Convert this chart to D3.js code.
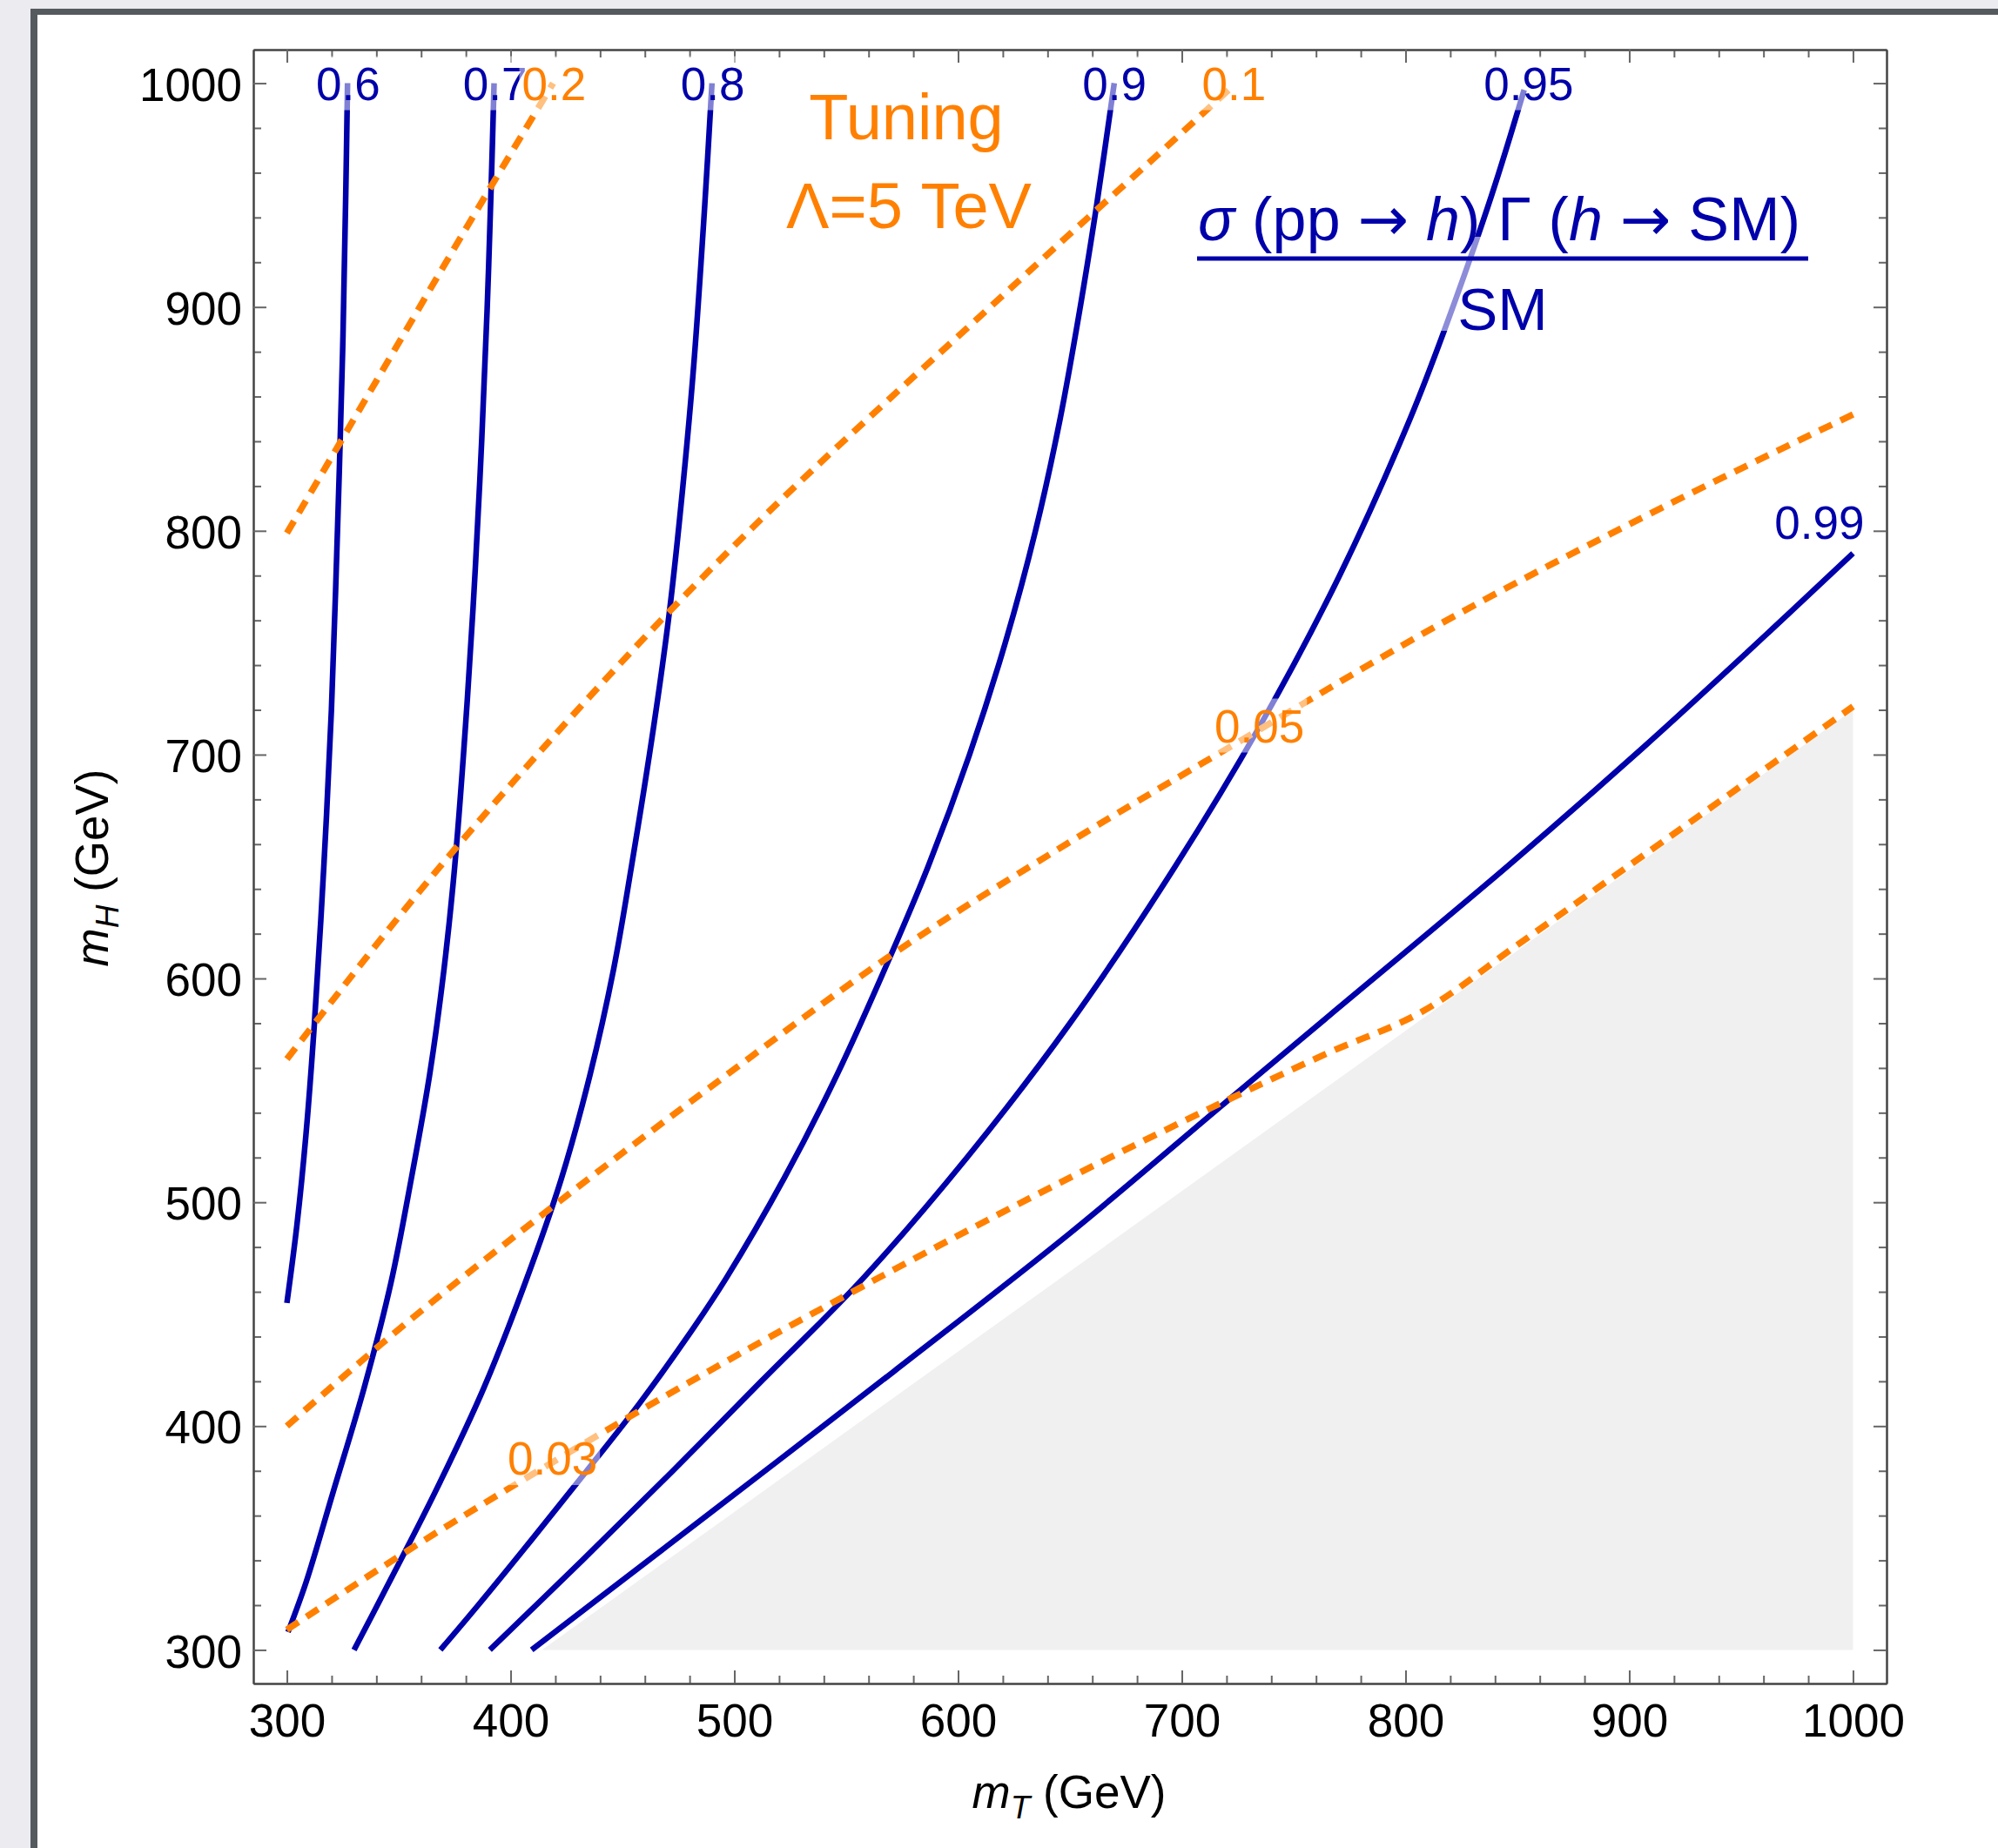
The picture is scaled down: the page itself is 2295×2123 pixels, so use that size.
<!DOCTYPE html>
<html>
<head>
<meta charset="utf-8">
<script src="https://cdn.jsdelivr.net/npm/d3@7"></script>
<style>
  body { margin: 0; background: #ebebf0; }
  svg { display: block; }
</style>
</head>
<body>
<script>
'use strict';

// axis range and ticks (GeV)
const plotDomain = [285, 1015];
const majorTicks = [300, 400, 500, 600, 700, 800, 900, 1000];
const minorTicks = [320, 340, 360, 380, 420, 440, 460, 480, 520, 540, 560, 580,
  620, 640, 660, 680, 720, 740, 760, 780, 820, 840, 860, 880, 920, 940, 960, 980];

// contours of sigma*Gamma / SM, points are [m_T, m_H]
const ratioLevels = ['0.6', '0.7', '0.8', '0.9', '0.95', '0.99'];
const ratio06 = [[300, 455], [304.5, 490], [308.5, 530], [312.3, 580], [316.5, 650], [319.9, 720],
  [322.6, 800], [324.9, 880], [326.3, 950], [327.1, 1000]];
const ratio07 = [[300.5, 308], [308.5, 330], [320.5, 370], [334.5, 417], [346.5, 464], [355.5, 510],
  [363.8, 557], [370.2, 604], [375, 650], [380.6, 724], [384.2, 783], [387.1, 841], [389.5, 899],
  [391.4, 957], [392.6, 1000]];
const ratio08 = [[330, 300], [342.5, 324], [366.5, 371], [388, 417], [406.5, 464], [422.5, 510],
  [435.5, 557], [446, 604], [454, 650], [464, 713], [471, 764], [477, 820], [482, 876],
  [486.8, 946], [490, 1000]];
const ratio09 = [[368.6, 300], [385.5, 320], [410, 350], [434, 380], [457.5, 410], [479.1, 440],
  [496.3, 466], [522.4, 511], [545.9, 557], [570.2, 611], [586.6, 650], [605.1, 700], [621.1, 750],
  [634.6, 800], [645.6, 850], [654.6, 900], [662, 946], [669.8, 1000]];
const ratio095 = [[390.7, 300], [432, 340], [472.5, 380], [512, 420], [557.5, 466], [604, 520],
  [650, 580], [697, 650], [735, 713], [770.5, 780], [802, 850], [817.5, 890], [838.5, 950], [853, 997]];
const ratio099 = [[409.4, 300], [457, 336.5], [518, 383.3], [571.5, 424.6], [650, 486.2], [720, 545],
  [766, 583.5], [846, 650.5], [906, 703], [953, 746], [1000, 790]];
const ratioCurves = [ratio06, ratio07, ratio08, ratio09, ratio095, ratio099];
const ratioLabelAt = [[327.4, 1000], [393, 1000], [490.3, 1000], [669.9, 1000], [855, 1000], [985, 804]];

// tuning contours for Lambda = 5 TeV
const tuningLevels = ['0.2', '0.1', '0.05', '0.03'];
const tuning02 = [[300, 799], [340, 867], [380, 935], [419, 1000]];
const tuning01 = [[300, 564], [366, 647], [420, 709], [471, 764], [520, 813], [565, 855], [610, 896],
  [646, 929], [687, 966], [722, 998]];
const tuning005 = [[300, 400], [342, 436.5], [420, 499], [494, 555], [568, 609], [650, 661],
  [731, 709], [813, 757], [906, 806], [1000, 852]];
const tuning003 = [[300, 309], [359, 347.5], [419, 384], [458, 407], [518, 441], [557.5, 462.5],
  [650, 511], [720, 545.5], [766, 567], [808, 585.5], [850, 615], [900, 650.5], [950, 686],
  [1000, 721.5]];
const tuningCurves = [tuning02, tuning01, tuning005, tuning003];
const tuningLabelAt = [[419.4, 1000], [723.3, 1000], [734.7, 713], [418.7, 385.7]];

// upper edge of the excluded (gray) region
const excludedEdge = [[414, 300], [1000, 720]];

(function() {

  let svgContainer = ""; // keep SVG reference in global scope
  const font = 'Liberation Sans, Arial, Helvetica, sans-serif';
  const blue = '#0000aa';
  const orange = '#ff8000';

  window.onload = function() {
    svgContainer = d3.select('body')
      .append('svg')
      .attr('width', 2295)
      .attr('height', 2123);

    drawFrame();
    let map = drawAxes();
    plotData(map);
    makeLabels(map);
  }

  // notebook-style window frame behind the plot
  function drawFrame() {
    svgContainer.append('rect')
      .attr('width', 2295).attr('height', 2123)
      .attr('fill', '#ebebf0');
    svgContainer.append('rect')
      .attr('x', 35).attr('y', 10)
      .attr('width', 2260).attr('height', 2113)
      .attr('fill', '#555a5f');
    svgContainer.append('rect')
      .attr('x', 43).attr('y', 17)
      .attr('width', 2252).attr('height', 2106)
      .attr('fill', '#ffffff');
  }

  // one axis with inward ticks
  function addAxis(axis, transform, values, size, withLabels) {
    let g = svgContainer.append('g')
      .attr('transform', transform)
      .call(axis.tickValues(values)
        .tickSizeInner(size)
        .tickSizeOuter(0)
        .tickFormat(withLabels ? d3.format('d') : ''));
    g.select('.domain').attr('stroke', '#444').attr('stroke-width', 2);
    g.selectAll('.tick line').attr('stroke', '#666').attr('stroke-width', 2);
    g.selectAll('text')
      .attr('font-family', font)
      .attr('font-size', 53)
      .attr('fill', '#000');
    return g;
  }

  // draw frame axes on all four sides
  function drawAxes() {
    let xScale = d3.scaleLinear().domain(plotDomain).range([291, 2167]);
    let yScale = d3.scaleLinear().domain(plotDomain).range([1934, 57]);

    // minor ticks
    addAxis(d3.axisBottom(xScale), 'translate(0,1934)', minorTicks, -9, false);
    addAxis(d3.axisTop(xScale), 'translate(0,57)', minorTicks, -9, false);
    addAxis(d3.axisLeft(yScale), 'translate(291,0)', minorTicks, -9, false);
    addAxis(d3.axisRight(yScale), 'translate(2167,0)', minorTicks, -9, false);

    // major ticks, labels on bottom and left
    addAxis(d3.axisBottom(xScale).tickPadding(23), 'translate(0,1934)', majorTicks, -15, true);
    addAxis(d3.axisTop(xScale), 'translate(0,57)', majorTicks, -15, false);
    let left = addAxis(d3.axisLeft(yScale).tickPadding(13), 'translate(291,0)', majorTicks, -15, true);
    left.selectAll('text').attr('dy', '0.37em');
    addAxis(d3.axisRight(yScale), 'translate(2167,0)', majorTicks, -15, false);

    return { x: xScale, y: yScale };
  }

  // gray region and contour lines
  function plotData(map) {
    let area = d3.area()
      .x((d) => map.x(d[0]))
      .y0(map.y(300))
      .y1((d) => map.y(d[1]));

    svgContainer.append('path')
      .datum(excludedEdge)
      .attr('d', area)
      .attr('fill', '#f0f0f0');

    // steep blue contours read better with a parametric spline
    let ratioLine = d3.line()
      .x((d) => map.x(d[0]))
      .y((d) => map.y(d[1]))
      .curve(d3.curveCatmullRom.alpha(0.5));

    let tuningLine = d3.line()
      .x((d) => map.x(d[0]))
      .y((d) => map.y(d[1]))
      .curve(d3.curveMonotoneX);

    svgContainer.selectAll('.ratio')
      .data(ratioCurves)
      .enter()
      .append('path')
        .attr('class', 'ratio')
        .attr('d', ratioLine)
        .attr('fill', 'none')
        .attr('stroke', blue)
        .attr('stroke-width', 6.5);

    svgContainer.selectAll('.tuning')
      .data(tuningCurves)
      .enter()
      .append('path')
        .attr('class', 'tuning')
        .attr('d', tuningLine)
        .attr('fill', 'none')
        .attr('stroke', orange)
        .attr('stroke-width', 7.5)
        .attr('stroke-dasharray', '16,11');
  }

  // contour label with a see-through box behind it
  function contourLabel(map, text, at, color, box) {
    let g = svgContainer.append('g');
    let rect = g.append('rect');
    let label = g.append('text')
      .attr('x', map.x(at[0]))
      .attr('y', map.y(at[1]))
      .attr('dy', '0.36em')
      .attr('text-anchor', 'middle')
      .attr('font-family', font)
      .attr('font-size', 53)
      .attr('fill', color)
      .text(text);
    if (box) {
      let w = label.node().getComputedTextLength();
      rect.attr('x', map.x(at[0]) - w / 2 - 3)
        .attr('y', map.y(at[1]) - 31)
        .attr('width', w + 6)
        .attr('height', 62)
        .attr('fill', '#fff')
        .attr('opacity', 0.5);
    }
  }

  // make titles, annotations and axes labels
  function makeLabels(map) {

    ratioLevels.forEach((lvl, i) => contourLabel(map, lvl, ratioLabelAt[i], blue, lvl !== '0.99'));
    tuningLevels.forEach((lvl, i) => contourLabel(map, lvl, tuningLabelAt[i], orange, true));

    // tuning annotation
    svgContainer.append('text')
      .attr('x', 1041).attr('y', 160)
      .attr('text-anchor', 'middle')
      .attr('font-family', font)
      .attr('font-size', 74)
      .attr('fill', orange)
      .text('Tuning');
    svgContainer.append('text')
      .attr('x', 1044).attr('y', 262)
      .attr('text-anchor', 'middle')
      .attr('font-family', font)
      .attr('font-size', 74)
      .attr('fill', orange)
      .text('Λ=5 TeV');

    // fraction legend for the blue contours
    svgContainer.append('rect')
      .attr('x', 1375).attr('y', 272)
      .attr('width', 702).attr('height', 108)
      .attr('fill', '#fff')
      .attr('opacity', 0.55);

    let num = svgContainer.append('text')
      .attr('x', 1376).attr('y', 276)
      .attr('textLength', 692)
      .attr('lengthAdjust', 'spacing')
      .attr('font-family', font)
      .attr('font-size', 70)
      .attr('fill', blue);
    num.append('tspan').attr('font-style', 'italic').text('σ');
    num.append('tspan').text('\u00a0(pp\u00a0');
    num.append('tspan').attr('font-family', 'DejaVu Sans').text('→');
    num.append('tspan').text('\u00a0');
    num.append('tspan').attr('font-style', 'italic').text('h');
    num.append('tspan').text(')\u00a0Γ\u00a0(');
    num.append('tspan').attr('font-style', 'italic').text('h');
    num.append('tspan').text('\u00a0');
    num.append('tspan').attr('font-family', 'DejaVu Sans').text('→');
    num.append('tspan').text('\u00a0SM)');

    svgContainer.append('line')
      .attr('x1', 1375).attr('x2', 2077)
      .attr('y1', 297).attr('y2', 297)
      .attr('stroke', blue)
      .attr('stroke-width', 5);

    svgContainer.append('text')
      .attr('x', 1726).attr('y', 379)
      .attr('text-anchor', 'middle')
      .attr('font-family', font)
      .attr('font-size', 69)
      .attr('fill', blue)
      .text('SM');

    // x axis title
    let xTitle = svgContainer.append('text')
      .attr('x', 1228).attr('y', 2077)
      .attr('text-anchor', 'middle')
      .attr('font-family', font)
      .attr('font-size', 53)
      .attr('fill', '#000');
    xTitle.append('tspan').attr('font-style', 'italic').text('m');
    xTitle.append('tspan').attr('font-style', 'italic').attr('font-size', 37).attr('dy', 12).text('T');
    xTitle.append('tspan').attr('dy', -12).text('\u00a0(GeV)');

    // y axis title
    let yTitle = svgContainer.append('text')
      .attr('transform', 'translate(124, 997)rotate(-90)')
      .attr('text-anchor', 'middle')
      .attr('font-family', font)
      .attr('font-size', 53)
      .attr('fill', '#000');
    yTitle.append('tspan').attr('font-style', 'italic').text('m');
    yTitle.append('tspan').attr('font-style', 'italic').attr('font-size', 37).attr('dy', 12).text('H');
    yTitle.append('tspan').attr('dy', -12).text('\u00a0(GeV)');
  }

})();
</script>
</body>
</html>
